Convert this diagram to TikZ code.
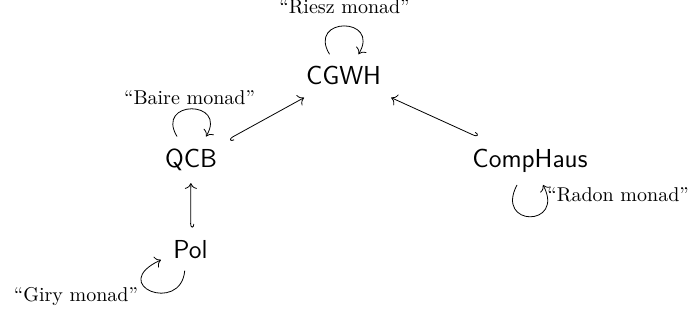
\documentclass[tikz,border=0pt]{standalone}
\usetikzlibrary{arrows.meta}
\begin{document}
\begin{tikzpicture}[x=1pt,y=1pt,
  obj/.style={font=\fontsize{13}{15}\selectfont\sffamily, inner sep=6pt, anchor=base},
  lab/.style={inner sep=0pt, anchor=base},
  inc/.style={line width=0.4pt, {Hooks[left,width=3.6pt,length=1.8pt]}-{Computer Modern Rightarrow[scale=1.15]}},
  mon/.style={line width=0.4pt, -{Computer Modern Rightarrow[scale=1.15]}}]
\useasboundingbox (0,0) rectangle (347,-160);
\node[obj] (CGWH) at (171.75,-42.5) {CGWH};
\node[obj] (QCB) at (95.5,-83.75) {QCB};
\node[obj] (CompHaus) at (265,-83.75) {CompHaus};
\node[obj] (Pol) at (95.25,-129) {Pol};
\node[lab] (riesz) at (172.25,-7) {“Riesz monad”};
\node[lab] (baire) at (94.75,-52.5) {“Baire monad”};
\node[lab, anchor=base west] (radon) at (273.5,-100.8) {“Radon monad”};
\node[lab] (giry) at (38,-150.8) {“Giry monad”};
\draw[inc] (QCB) -- (CGWH);
\draw[inc] (CompHaus) -- (CGWH);
\draw[inc] (Pol) -- (QCB);
\draw[mon] ([xshift=-7pt]CGWH.north) .. controls +(121:22) and +(59:22) .. ([xshift=7.5pt]CGWH.north);
\draw[mon] ([xshift=-7pt]QCB.north) .. controls +(121:21.5) and +(59:21.5) .. ([xshift=7.5pt]QCB.north);
\draw[mon] ([xshift=-6.5pt]CompHaus.south) .. controls +(-118:24) and +(-62:24) .. ([xshift=6.5pt]CompHaus.south);
\draw[mon] (Pol.255) .. controls +(-95:22) and +(205:30) .. (Pol.200);
\end{tikzpicture}
\end{document}
